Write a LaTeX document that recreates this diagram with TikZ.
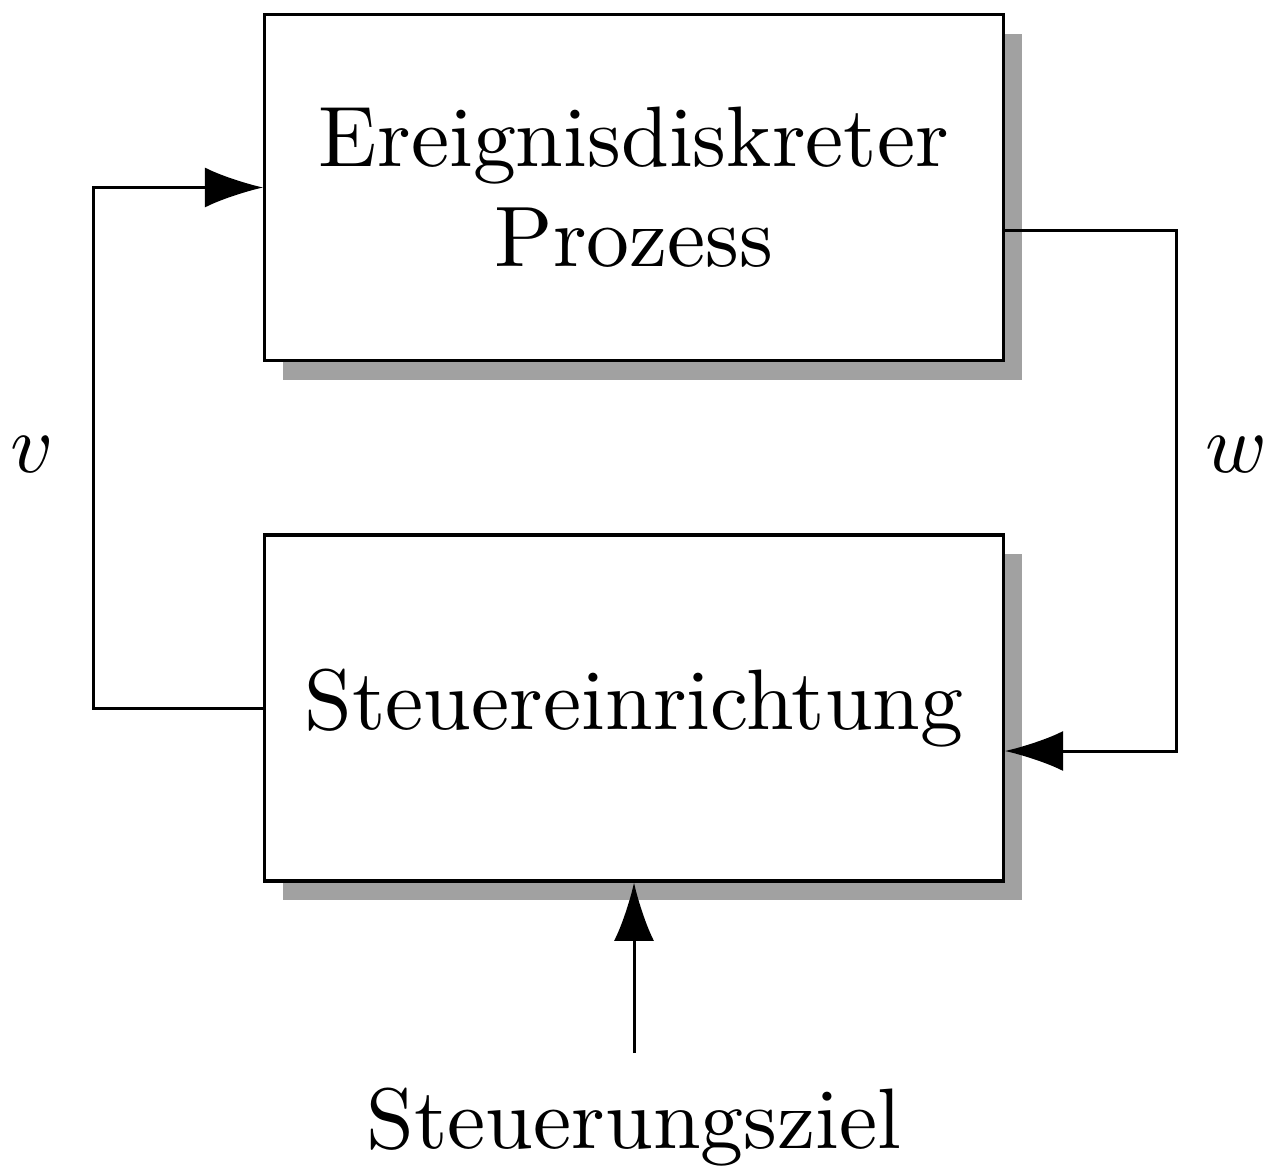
\documentclass[tikz,border=0pt]{standalone}
\usetikzlibrary{arrows.meta,shadows,calc}
\begin{document}
\begin{tikzpicture}[x=0.12pt,y=-0.12pt,
  every node/.style={font=\fontsize{10.3}{12}\selectfont},
  blk/.style={draw, line width=0.38pt, fill=white, minimum width=88.6pt, minimum height=41.5pt, inner sep=0pt, align=center,
    drop shadow={shadow xshift=2.2pt, shadow yshift=-2.3pt, fill=black!37, opacity=1}},
  conn/.style={line width=0.36pt, -{Latex[length=7pt,width=4.8pt]}}]
\useasboundingbox (0,0) rectangle (1275,1167);
\node[blk] (proc) at (634,187.5) {Ereignisdiskreter\\Prozess};
\node[blk] (ctrl) at (634,708) {Steuereinrichtung};
\coordinate (lc) at (93,0);
\coordinate (rc) at (1176,0);
\coordinate (pout) at ($(proc.east)+(0,43.5)$);
\coordinate (cin) at ($(ctrl.east)+(0,43)$);
\draw[conn] (ctrl.west) -| (lc |- proc.west) -- (proc.west);
\draw[conn] (pout) -| (rc |- cin) -- (cin);
\node[anchor=base] (goal) at (634,1148) {Steuerungsziel};
\coordinate (gtop) at (634,1053);
\draw[conn] (gtop) -- (ctrl.south);
\node (v) at (32,455) {$v$};
\node (w) at (1236,455) {$w$};
\end{tikzpicture}
\end{document}
